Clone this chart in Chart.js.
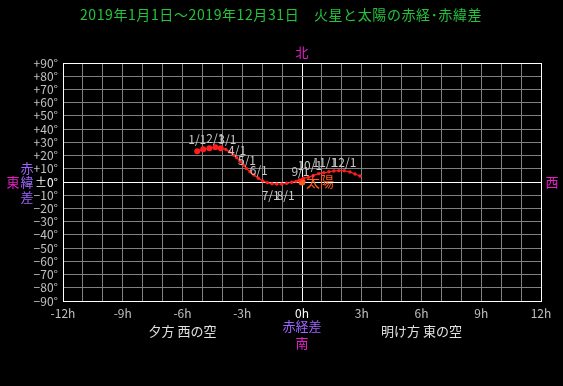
<!DOCTYPE html>
<html>
<head>
<meta charset="utf-8">
<script src="https://cdn.jsdelivr.net/npm/chart.js@4.4.0/dist/chart.umd.min.js"></script>
<style>
  html, body { margin: 0; padding: 0; background: #000; }
</style>
</head>
<body>
<canvas id="chart" width="563" height="386"></canvas>
<script>
// Mars position relative to the Sun, sampled every ~10 days (2019)
const marsRa = [-5.26, -4.96, -4.65, -4.35, -4.08, -3.83, -3.65, -3.45, -3.28, -3.11,
  -2.95, -2.78, -2.61, -2.41, -2.19, -1.97, -1.74, -1.51, -1.27, -1.02,
  -0.77, -0.52, -0.30, -0.14, 0.07, 0.32, 0.57, 0.84, 1.10, 1.35,
  1.60, 1.85, 2.12, 2.41, 2.66, 2.91];
const marsDec = [23.2, 24.7, 25.5, 26.2, 25.5, 24.7, 22.9, 20.4, 18.4, 15.7,
  12.9, 10.1, 7.8, 5.3, 2.8, 0.8, -0.5, -1.3, -1.5, -1.5,
  -1.0, -0.2, 0.5, 1.5, 2.8, 3.5, 5.0, 6.3, 7.0, 7.7,
  8.3, 8.6, 8.5, 7.6, 6.1, 4.5];
const dateLabels = ['1/1', '2/1', '3/1', '4/1', '5/1', '6/1', '7/1', '8/1', '9/1', '10/1', '11/1', '12/1'];
const dateIdx = [0, 3, 6, 9, 12, 15, 18, 21, 24, 27, 30, 33];
const sunRa = [0];
const sunDec = [0];

// label offsets from their point (px)
const labelDx = [0, 0, -2, -3, -3, -4, -6, -6, -3, -9, -9, -6];
const labelDy = [-12, -9, -12, -11, -11, -11, 11, 13, -7, -8, -9, -10];

const JP = '"Noto Sans CJK JP", sans-serif';
const GRID = '#808080';
const TICK = '#c0c0c0';
const MAGENTA = '#e61ec8';
const PURPLE = '#a064ff';

const textPlugin = {
  id: 'texts',
  afterDatasetsDraw(chart) {
    const ctx = chart.ctx;
    const area = chart.chartArea;
    const xs = chart.scales.x, ys = chart.scales.y;
    const x0 = xs.getPixelForValue(0), y0 = ys.getPixelForValue(0);
    ctx.save();
    ctx.textAlign = 'center';
    ctx.textBaseline = 'middle';

    // date labels
    ctx.font = '12px ' + JP;
    ctx.fillStyle = '#c8c8c8';
    const pts = chart.getDatasetMeta(0).data;
    dateIdx.forEach((i, k) => {
      const p = pts[i];
      ctx.fillText(dateLabels[k], p.x + labelDx[k], p.y + labelDy[k]);
    });

    // sun label
    const s = chart.getDatasetMeta(1).data[0];
    ctx.font = '14px ' + JP;
    ctx.fillStyle = '#ff5a1e';
    ctx.textAlign = 'left';
    ctx.fillText('太陽', s.x + 4, s.y);

    // title
    ctx.textAlign = 'center';
    ctx.font = '14px ' + JP;
    ctx.letterSpacing = '0.6px';
    ctx.fillStyle = '#22c43a';
    ctx.fillText('2019年1月1日～2019年12月31日　火星と太陽の赤経･赤緯差', 281, 15);
    ctx.letterSpacing = '0px';

    // compass / axis names
    ctx.font = '13px ' + JP;
    ctx.fillStyle = MAGENTA;
    ctx.fillText('北', x0, area.top - 11);
    ctx.fillText('南', x0, area.bottom + 42);
    ctx.fillText('西', area.right + 11, y0);
    ctx.fillText('東', 13, y0);

    ctx.fillStyle = PURPLE;
    ctx.fillText('赤経差', x0, area.bottom + 25);
    ctx.fillText('赤', 27, y0 - 14);
    ctx.fillText('緯', 27, y0);
    ctx.fillText('差', 27, y0 + 15);

    ctx.fillStyle = '#e0e0e0';
    ctx.fillText('夕方 西の空', xs.getPixelForValue(-6), area.bottom + 30);
    ctx.fillText('明け方 東の空', xs.getPixelForValue(6), area.bottom + 30);
    ctx.restore();
  }
};

new Chart(document.getElementById('chart'), {
  type: 'scatter',
  data: {
    datasets: [
      {
        label: '火星',
        data: marsRa.map((x, i) => ({ x: x, y: marsDec[i] })),
        showLine: true,
        borderColor: '#ff1e1e',
        borderWidth: 1.2,
        backgroundColor: '#ff1e1e',
        pointBorderWidth: 0,
        pointRadius: (c) => (c.dataIndex < 5 ? 3 : 1.7),
      },
      {
        label: '太陽',
        data: sunRa.map((x, i) => ({ x: x, y: sunDec[i] })),
        backgroundColor: '#ff5a1e',
        pointBorderWidth: 0,
        pointRadius: 3.5,
      },
    ],
  },
  options: {
    responsive: false,
    animation: false,
    layout: { padding: { left: 0, top: 63, right: 22, bottom: 0 } },
    plugins: {
      legend: { display: false },
      tooltip: { enabled: false },
    },
    scales: {
      x: {
        min: -12,
        max: 12,
        afterFit: (s) => { s.height = 85; },
        border: { color: '#ffffff', width: 1 },
        grid: {
          drawTicks: false,
          color: (c) => (c.tick && (c.tick.value === 0 || Math.abs(c.tick.value) === 12) ? '#ffffff' : GRID),
        },
        ticks: {
          stepSize: 1,
          autoSkip: false,
          maxRotation: 0,
          padding: 5,
          font: { family: JP, size: 12 },
          color: (c) => (c.tick.value === 0 ? '#ffffff' : TICK),
          callback: (v) => (v % 3 === 0 ? v + 'h' : ''),
        },
      },
      y: {
        min: -90,
        max: 90,
        afterFit: (s) => { s.width = 63; },
        border: { color: '#ffffff', width: 1 },
        grid: {
          drawTicks: false,
          color: (c) => (c.tick && (c.tick.value === 0 || Math.abs(c.tick.value) === 90) ? '#ffffff' : GRID),
        },
        ticks: {
          stepSize: 10,
          autoSkip: false,
          padding: 5,
          font: { family: JP, size: 12 },
          color: (c) => (c.tick.value === 0 ? '#ffffff' : TICK),
          callback: (v) => (v > 0 ? '+' + v + '°' : v === 0 ? '±0°' : '−' + Math.abs(v) + '°'),
        },
      },
    },
  },
  plugins: [textPlugin],
});
</script>
</body>
</html>
